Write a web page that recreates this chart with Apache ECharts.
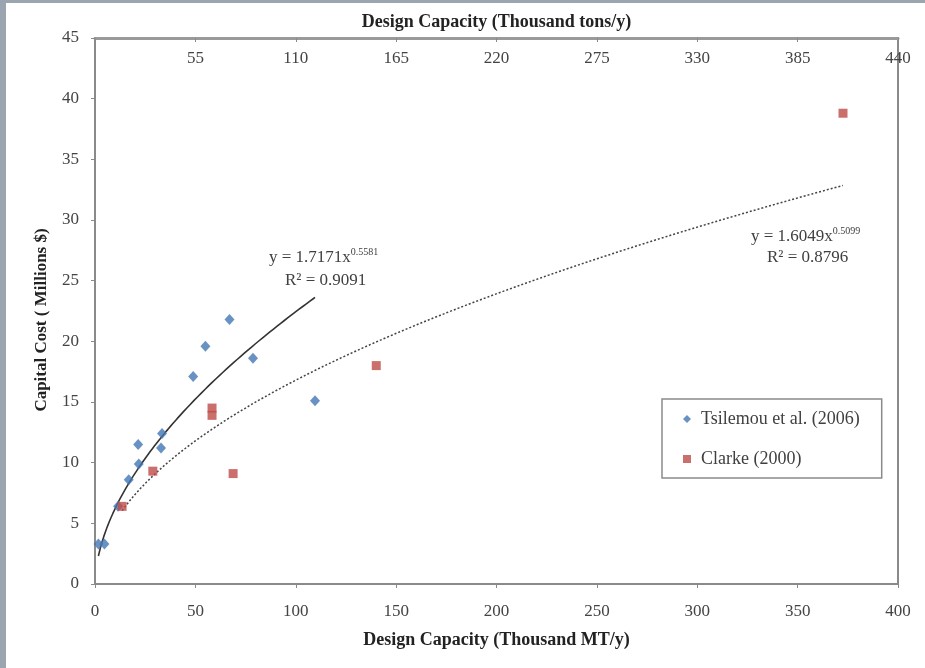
<!DOCTYPE html>
<html>
<head>
<meta charset="utf-8">
<script src="https://cdn.jsdelivr.net/npm/echarts@6/dist/echarts.min.js"></script>
<style>
html,body{margin:0;padding:0;background:#fff;}
#c{width:925px;height:668px;}
</style>
</head>
<body>
<div id="c"></div>
<script>
// ---- data ----
const tsilemouX = [1.7, 4.7, 11.5, 16.8, 21.8, 21.5, 33.4, 32.9, 48.9, 55.0, 67.0, 78.7, 109.6];
const tsilemouY = [3.3, 3.3, 6.4, 8.6, 9.9, 11.5, 12.4, 11.2, 17.1, 19.6, 21.8, 18.6, 15.1];
const clarkeX = [13.5, 28.8, 58.3, 58.3, 68.8, 140.1, 372.6];
const clarkeY = [6.4, 9.3, 14.5, 13.9, 9.1, 18.0, 38.8];
// power trendlines as printed on the chart: y = a * x^b
const tsilemouFit = { a: 1.7171, b: 0.5581, r2: '0.9091', exp: '0.5581', coef: '1.7171' };
const clarkeFit = { a: 1.6049, b: 0.5099, r2: '0.8796', exp: '0.5099', coef: '1.6049' };
const bottomTicks = { min: 0, max: 400, interval: 50 };
const topTicks = { min: 0, max: 440, interval: 55 };
const yTicks = { min: 0, max: 45, interval: 5 };

function pairs(xs, ys) { return xs.map((x, i) => [x, ys[i]]); }
function fitCurve(fit, xs) {
  const lo = Math.min.apply(null, xs), hi = Math.max.apply(null, xs);
  const out = [];
  const n = 120;
  for (let i = 0; i <= n; i++) {
    const x = lo + (hi - lo) * i / n;
    out.push([x, fit.a * Math.pow(x, fit.b)]);
  }
  return out;
}

const FONT = '"Liberation Serif", "Times New Roman", serif';
const AXC = '#8a8a8a';
const chart = echarts.init(document.getElementById('c'), null, { renderer: 'canvas' });

chart.setOption({
  animation: false,
  backgroundColor: '#ffffff',
  grid: { left: 95, right: 27, top: 38, bottom: 84, show: true, borderColor: AXC, borderWidth: 2, backgroundColor: 'transparent' },
  legend: {
    data: [
      { name: 'Tsilemou et al. (2006)', icon: 'diamond' },
      { name: 'Clarke (2000)', icon: 'rect' }
    ],
    orient: 'vertical',
    left: 662, top: 399,
    padding: [11, 22, 10, 21],
    itemGap: 22,
    itemWidth: 8, itemHeight: 8,
    borderColor: '#8a8a8a', borderWidth: 1.5,
    textStyle: { fontFamily: FONT, fontSize: 18, color: '#404040', padding: [0, 0, 0, 5] }
  },
  xAxis: [
    {
      type: 'value', position: 'bottom',
      min: bottomTicks.min, max: bottomTicks.max, interval: bottomTicks.interval,
      name: 'Design Capacity (Thousand MT/y)', nameLocation: 'middle', nameGap: 47,
      nameTextStyle: { fontFamily: FONT, fontSize: 18, fontWeight: 'bold', color: '#222' },
      axisLine: { lineStyle: { color: AXC, width: 2 } },
      axisTick: { show: true, length: 4, lineStyle: { color: AXC } },
      axisLabel: { fontFamily: FONT, fontSize: 17, color: '#444', margin: 19 },
      splitLine: { show: false }
    },
    {
      type: 'value', position: 'top',
      min: topTicks.min, max: topTicks.max, interval: topTicks.interval,
      name: 'Design Capacity (Thousand tons/y)', nameLocation: 'middle', nameGap: 7,
      nameTextStyle: { fontFamily: FONT, fontSize: 18, fontWeight: 'bold', color: '#222' },
      axisLine: { lineStyle: { color: '#9a9a9a', width: 3 } },
      axisTick: { show: true, inside: true, length: 4, lineStyle: { color: AXC } },
      axisLabel: { inside: true, fontFamily: FONT, fontSize: 17, color: '#444', margin: 12,
        formatter: v => v === 0 ? '' : String(v) },
      splitLine: { show: false }
    }
  ],
  yAxis: {
    type: 'value',
    min: yTicks.min, max: yTicks.max, interval: yTicks.interval,
    axisLine: { show: true, lineStyle: { color: AXC, width: 2 } },
    axisTick: { show: true, length: 4, lineStyle: { color: AXC } },
    axisLabel: { fontFamily: FONT, fontSize: 17, color: '#444', margin: 16 },
    splitLine: { show: false }
  },
  series: [
    {
      name: 'Tsilemou et al. (2006)', type: 'scatter', xAxisIndex: 0,
      symbol: 'diamond', symbolSize: [10, 11],
      itemStyle: { color: '#4477b5' },
      data: pairs(tsilemouX, tsilemouY), z: 5
    },
    {
      name: 'Clarke (2000)', type: 'scatter', xAxisIndex: 0,
      symbol: 'rect', symbolSize: 9,
      itemStyle: { color: '#be4b48' },
      data: pairs(clarkeX, clarkeY), z: 5
    },
    {
      name: 'fitT', type: 'line', xAxisIndex: 0, showSymbol: false, symbol: 'none',
      lineStyle: { color: '#333', width: 1.6 }, data: fitCurve(tsilemouFit, tsilemouX), z: 3, silent: true
    },
    {
      name: 'fitC', type: 'line', xAxisIndex: 0, showSymbol: false, symbol: 'none',
      lineStyle: { color: '#444', width: 1.5, type: [2, 2] }, data: fitCurve(clarkeFit, clarkeX), z: 3, silent: true
    }
  ],
  graphic: [
    { type: 'rect', left: 0, top: 0, shape: { width: 6, height: 668 }, style: { fill: '#9ba5af' }, z: 100 },
    { type: 'rect', left: 0, top: 0, shape: { width: 925, height: 3 }, style: { fill: '#9ba5af' }, z: 100 },
    {
      type: 'text', x: 42, y: 320, rotation: Math.PI / 2,
      style: { text: 'Capital Cost ( Millions $)', font: 'bold 17px ' + FONT, fill: '#222', align: 'center', verticalAlign: 'middle' }
    },
    {
      type: 'text', x: 269, y: 258,
      style: {
        text: '{m|y = ' + tsilemouFit.coef + 'x}{s|' + tsilemouFit.exp + '}',
        verticalAlign: 'middle',
        rich: { m: { font: '17px ' + FONT, fill: '#404040' }, s: { font: '10px ' + FONT, fill: '#404040', padding: [0, 0, 12, 0] } }
      }
    },
    {
      type: 'text', x: 285, y: 281,
      style: { text: 'R² = ' + tsilemouFit.r2, font: '17px ' + FONT, fill: '#404040', verticalAlign: 'middle' }
    },
    {
      type: 'text', x: 751, y: 237,
      style: {
        text: '{m|y = ' + clarkeFit.coef + 'x}{s|' + clarkeFit.exp + '}',
        verticalAlign: 'middle',
        rich: { m: { font: '17px ' + FONT, fill: '#404040' }, s: { font: '10px ' + FONT, fill: '#404040', padding: [0, 0, 12, 0] } }
      }
    },
    {
      type: 'text', x: 767, y: 258,
      style: { text: 'R² = ' + clarkeFit.r2, font: '17px ' + FONT, fill: '#404040', verticalAlign: 'middle' }
    }
  ]
});
</script>
</body>
</html>
